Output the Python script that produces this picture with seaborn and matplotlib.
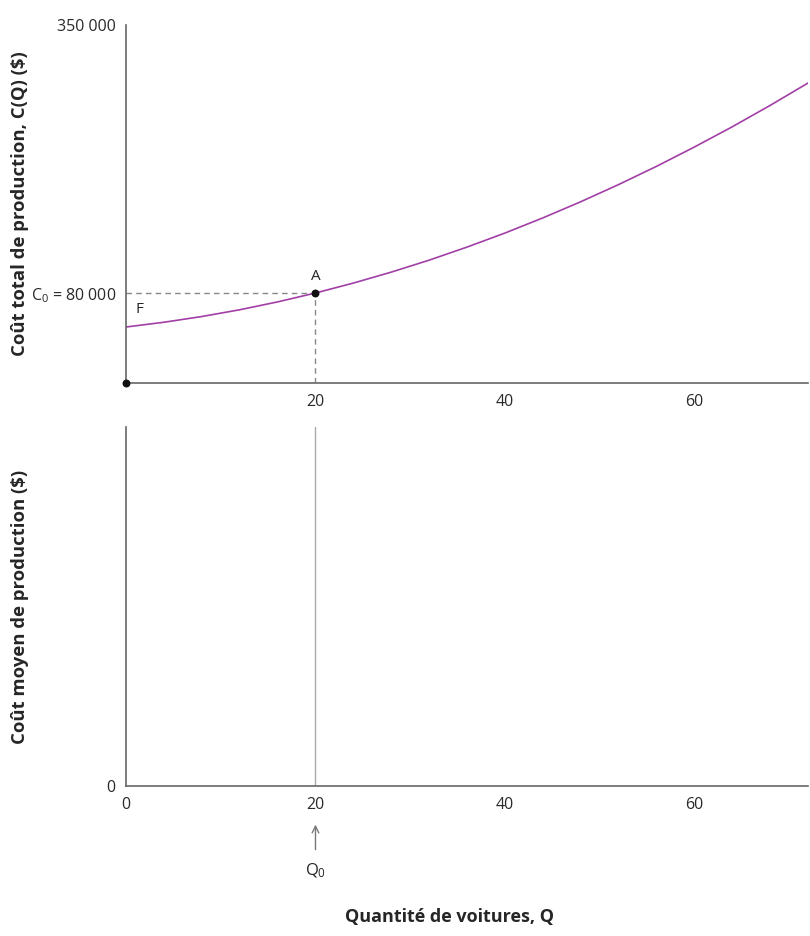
import matplotlib
matplotlib.use("Agg")
import numpy as np
import pandas as pd
import matplotlib.pyplot as plt
import seaborn as sns

# total cost curve
quantity = [0, 4, 8, 12, 16, 20, 24, 28, 32, 36, 40, 44, 48, 52, 56, 60, 64, 68, 72]
total_cost = [54750, 59400, 65000, 71600, 79300, 88000, 97700, 108400, 120100, 132900,
              146600, 161400, 177200, 194000, 211800, 230700, 250500, 271400, 293300]

point_a = (20, 88000)
x_ticks = [20, 40, 60]
x_ticks_bottom = [0, 20, 40, 60]
y_top_ticks = [88000, 350000]
y_top_labels = ["$C_0$ = 80 000", "350 000"]

curve_color = "#a13fa6"
axis_color = "#666666"
guide_color = "#888888"

sns.set_theme(style="white")
plt.rcParams["font.family"] = ["Open Sans", "DejaVu Sans"]
plt.rcParams["mathtext.fontset"] = "custom"
plt.rcParams["mathtext.rm"] = "Open Sans"
plt.rcParams["mathtext.it"] = "Open Sans"

fig = plt.figure(figsize=(8.1, 9.36), dpi=100)
ax1 = fig.add_axes([0.1556, 0.5908, 0.842, 0.3825])
ax2 = fig.add_axes([0.1556, 0.1603, 0.842, 0.3835])

df = pd.DataFrame({"Q": quantity, "C": total_cost})
sns.lineplot(data=df, x="Q", y="C", ax=ax1, color=curve_color, linewidth=1.2)

for ax in (ax1, ax2):
    ax.set_xlim(0, 72)
    for s in ("top", "right"):
        ax.spines[s].set_visible(False)
    for s in ("left", "bottom"):
        ax.spines[s].set_color(axis_color)
        ax.spines[s].set_linewidth(1.2)
    ax.tick_params(length=0, labelsize=11.5, colors="#2a2a2a", pad=8)
    ax.set_xlabel("")
    ax.set_ylabel("")

# top panel
ax1.set_ylim(0, 350000)
ax1.set_xticks(x_ticks)
ax1.set_yticks(y_top_ticks)
ax1.set_yticklabels(y_top_labels)
ax1.tick_params(axis="y", pad=7)
ax1.plot([0, point_a[0]], [point_a[1], point_a[1]], ls=(0, (4, 3)), color=guide_color, lw=1)
ax1.plot([point_a[0], point_a[0]], [0, point_a[1]], ls=(0, (4, 3)), color=guide_color, lw=1)
ax1.scatter([point_a[0]], [point_a[1]], s=22, color="#111111", zorder=5)
ax1.scatter([0], [0], s=22, color="#111111", zorder=5, clip_on=False)
ax1.text(point_a[0], point_a[1] + 9000, "A", ha="center", va="bottom", fontsize=11)
ax1.text(1.0, 72000, "F", ha="left", va="center", fontsize=11)
ax1.set_ylabel("Coût total de production, C(Q) (\\$)", fontsize=13.3, fontweight="bold")
ax1.yaxis.set_label_coords(-0.143, 0.5)

# bottom panel
ax2.set_ylim(0, 1)
ax2.set_xticks(x_ticks_bottom)
ax2.set_yticks([0])
ax2.set_yticklabels(["0"])
ax2.axvline(point_a[0], color="#aaaaaa", lw=1)
ax2.set_ylabel("Coût moyen de production (\\$)", fontsize=13.3, fontweight="bold")
ax2.yaxis.set_label_coords(-0.143, 0.5)
ax2.annotate("", xy=(point_a[0], -0.1), xytext=(point_a[0], -0.185),
             xycoords="data", annotation_clip=False,
             arrowprops=dict(arrowstyle="->", color="#777777", lw=1))
ax2.text(point_a[0], -0.235, "$Q_0$", ha="center", va="center", fontsize=12,
         transform=ax2.transData, clip_on=False)
ax2.set_xlabel("Quantité de voitures, Q", fontsize=13, fontweight="bold")
ax2.xaxis.set_label_coords(0.474, -0.34)

fig.savefig("out.png", dpi=100)
